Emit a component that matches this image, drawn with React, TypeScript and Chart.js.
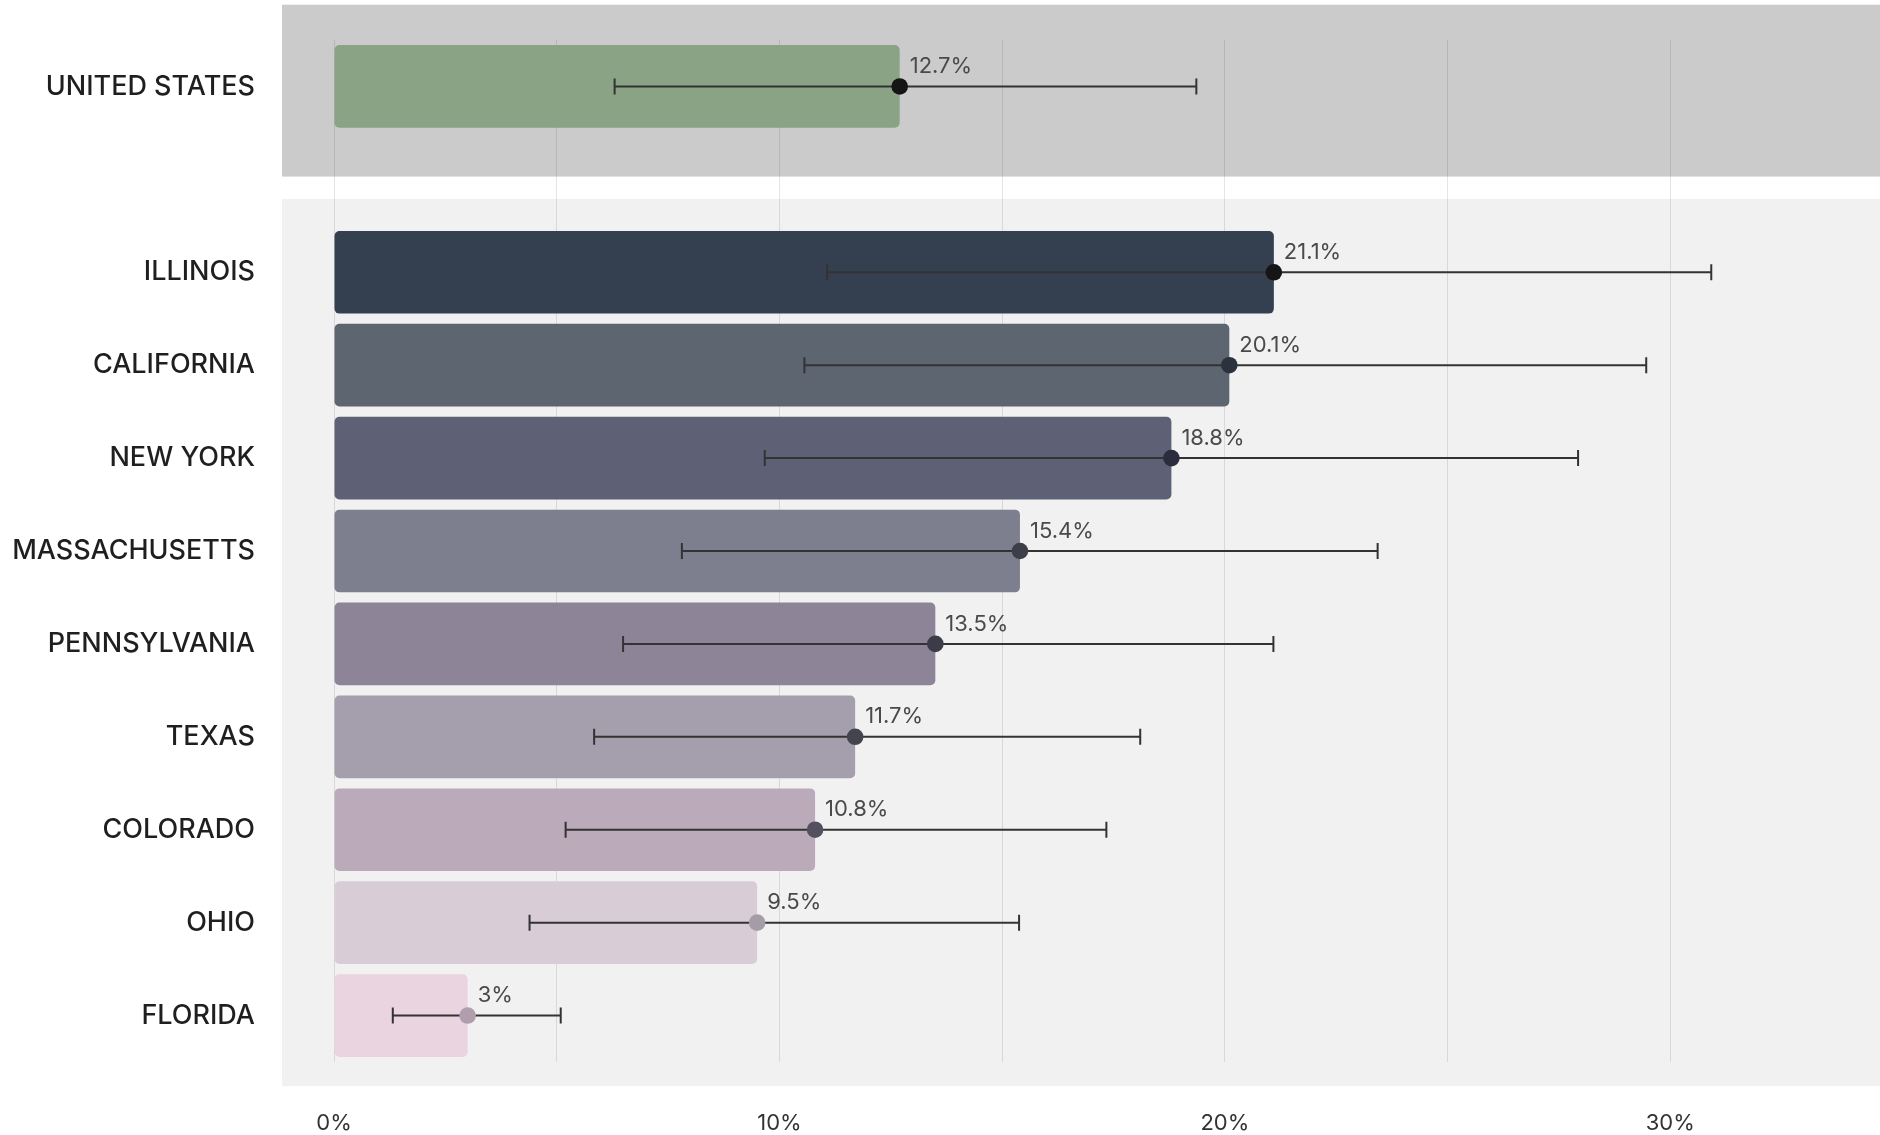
import React, { useEffect, useRef } from "react";
import { Chart, registerables } from "chart.js";

Chart.register(...registerables);

const categories = [
  "UNITED STATES",
  "",
  "ILLINOIS",
  "CALIFORNIA",
  "NEW YORK",
  "MASSACHUSETTS",
  "PENNSYLVANIA",
  "TEXAS",
  "COLORADO",
  "OHIO",
  "FLORIDA",
];
const values: (number | null)[] = [12.7, null, 21.1, 20.1, 18.8, 15.4, 13.5, 11.7, 10.8, 9.5, 3];
const lows: (number | null)[] = [6.3, null, 11.07, 10.56, 9.67, 7.81, 6.49, 5.84, 5.2, 4.39, 1.32];
const highs: (number | null)[] = [19.36, null, 30.92, 29.46, 27.93, 23.43, 21.09, 18.1, 17.34, 15.38, 5.09];
const barColors = [
  "#8aa385",
  "rgba(0,0,0,0)",
  "#344050",
  "#5c6570",
  "#5e6075",
  "#7e7f8e",
  "#8d8597",
  "#a59eac",
  "#bbabba",
  "#d8cdd7",
  "#e9d4e0",
];
const dotColors = [
  "#151515",
  "#151515",
  "#151515",
  "#2b323d",
  "#2b2d3c",
  "#3c3e4a",
  "#3b3c48",
  "#44444f",
  "#555060",
  "#a49ca7",
  "#b09ead",
];
const xTicks = [0, 5, 10, 15, 20, 25, 30, 35];

const FONT = "Inter, 'Noto Sans', sans-serif";

const panelsPlugin = {
  id: "panels",
  beforeDraw(chart: any) {
    const { ctx, chartArea, scales } = chart;
    const y = scales.y;
    const slot = (y.bottom - y.top) / categories.length;
    const gapCenter = y.getPixelForValue(1);
    const left = chartArea.left - 52;
    const right = chart.width;
    ctx.save();
    ctx.fillStyle = "#cbcbcb";
    const t1 = y.top - 0.38 * slot;
    const b1 = gapCenter - 0.03 * slot;
    ctx.fillRect(left, t1, right - left, b1 - t1);
    ctx.fillStyle = "#f1f1f1";
    const t2 = gapCenter + 0.21 * slot;
    const b2 = y.bottom + 0.26 * slot;
    ctx.fillRect(left, t2, right - left, b2 - t2);
    ctx.restore();
  },
};

const errorPlugin = {
  id: "errorbars",
  afterDatasetsDraw(chart: any) {
    const { ctx, scales } = chart;
    const x = scales.x;
    const y = scales.y;
    ctx.save();
    values.forEach((v, i) => {
      if (v === null) return;
      const lo = lows[i] as number;
      const hi = highs[i] as number;
      const cy = y.getPixelForValue(i);
      const xl = x.getPixelForValue(lo);
      const xh = x.getPixelForValue(hi);
      const xv = x.getPixelForValue(v);
      ctx.strokeStyle = "#333333";
      ctx.lineWidth = 2;
      ctx.beginPath();
      ctx.moveTo(xl, cy);
      ctx.lineTo(xh, cy);
      ctx.moveTo(xl, cy - 8);
      ctx.lineTo(xl, cy + 8);
      ctx.moveTo(xh, cy - 8);
      ctx.lineTo(xh, cy + 8);
      ctx.stroke();
      ctx.fillStyle = dotColors[i];
      ctx.beginPath();
      ctx.arc(xv, cy, 8.3, 0, Math.PI * 2);
      ctx.fill();
      ctx.fillStyle = "#4a4a4a";
      ctx.font = `400 22px ${FONT}`;
      ctx.textAlign = "left";
      ctx.textBaseline = "middle";
      ctx.fillText(`${v}%`, xv + 10, cy - 20);
    });
    ctx.restore();
  },
};

export default function App() {
  const ref = useRef<HTMLCanvasElement | null>(null);
  useEffect(() => {
    if (!ref.current) return;
    const chart = new Chart(ref.current, {
      type: "bar",
      data: {
        labels: categories,
        datasets: [
          {
            data: values as any,
            backgroundColor: barColors,
            borderRadius: 5,
            borderSkipped: false,
            barPercentage: 0.89,
            categoryPercentage: 1,
          },
        ],
      },
      options: {
        indexAxis: "y",
        animation: false,
        responsive: true,
        maintainAspectRatio: false,
        devicePixelRatio: 1,
        layout: { padding: { top: 40, left: 0, right: 0, bottom: 0 } },
        plugins: {
          legend: { display: false },
          tooltip: { enabled: false },
        },
        scales: {
          x: {
            type: "linear",
            min: 0,
            max: 35,
            afterBuildTicks: (scale: any) => {
              scale.ticks = xTicks.map((v) => ({ value: v }));
            },
            afterFit: (scale: any) => {
              scale.height = 73;
              scale.paddingLeft = 0;
              scale.paddingRight = 0;
            },
            ticks: {
              autoSkip: false,
              maxRotation: 0,
              padding: 48,
              color: "#333333",
              font: { family: FONT, size: 22 },
              callback: (v: any) => (Number(v) % 10 === 0 && Number(v) < 35 ? `${v}%` : ""),
            },
            grid: { color: "rgba(0,0,0,0.1)", drawTicks: false, lineWidth: 1 },
            border: { display: false },
          },
          y: {
            afterFit: (scale: any) => {
              scale.width = 334;
              scale.paddingTop = 0;
              scale.paddingBottom = 0;
            },
            ticks: {
              padding: 79,
              color: "#1f1f1f",
              font: { family: FONT, size: 27, weight: "500" },
            },
            grid: { display: false, drawTicks: false },
            border: { display: false },
          },
        },
      },
      plugins: [panelsPlugin, errorPlugin],
    });
    return () => chart.destroy();
  }, []);
  return (
    <div
      style={{
        position: "fixed",
        left: 0,
        top: 0,
        width: 1880,
        height: 1135,
        overflow: "hidden",
        background: "#ffffff",
      }}
    >
      <div style={{ position: "relative", width: 1893, height: 1135 }}>
        <canvas ref={ref} />
      </div>
    </div>
  );
}
